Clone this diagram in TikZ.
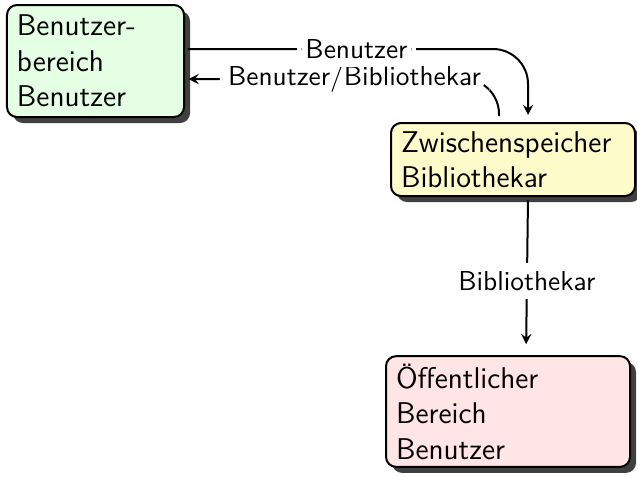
\documentclass[tikz,border=0pt]{standalone}
\usepackage{fontspec}
\usetikzlibrary{shadows,arrows}
\tikzset{
	area/.style={draw,thick,rounded corners=4pt,align=left,inner xsep=4pt,inner ysep=3pt,
		font=\sffamily\fontsize{12}{14.2}\selectfont,
		drop shadow={shadow xshift=2.4pt,shadow yshift=-2.4pt,fill=black!75,opacity=1}},
	flow/.style={thick,rounded corners=14pt},
	lbl/.style={fill=white,font=\sffamily\fontsize{10.95}{13.6}\selectfont}
}
\begin{document}
\begin{tikzpicture}[line cap=round,line join=round,>=stealth,x=0.4pt,y=-0.4pt]
		\useasboundingbox (0,0) rectangle (637,476);
		% Bereiche
		\node[area,fill=green!10,text width=62.8pt,minimum height=44.8pt] (user) at (95.5,61) {Benutzer-\\bereich\\Benutzer};
		\node[area,fill=yellow!20,text width=89.6pt,minimum height=29.2pt,inner ysep=2pt] (cache) at (513,159.5) {Zwischenspeicher\\Bibliothekar};
		\node[area,fill=red!10,text width=89.6pt,minimum height=42.8pt] (public) at (508,411.5) {Öffentlicher\\Bereich\\Benutzer};
		% Hilfspunkte
		\coordinate (userhi) at ([yshift=4.8pt]user.east);
		\coordinate (userlo) at ([yshift=-7.2pt]user.east);
		\coordinate (cachein) at ([xshift=6pt]cache.north);
		\coordinate (cacheout) at ([xshift=-5.6pt]cache.north);
		% Verbindungen
		\draw [flow,->,shorten <=2.6pt,shorten >=1.4pt] (cacheout) -- (cacheout |- userlo) -- node[lbl,pos=0.46]{Benutzer/Bibliothekar} (userlo);
		\draw [flow,->,shorten <=1.4pt,shorten >=2.8pt] (userhi) -- node[lbl]{Benutzer} (userhi -| cachein) -- (cachein);
		\draw [flow,->,shorten <=1.6pt,shorten >=4.4pt] ([xshift=6pt]cache.south) -- node[lbl,pos=0.53]{Bibliothekar} ([xshift=7.2pt]public.north);
		\end{tikzpicture}
\end{document}
